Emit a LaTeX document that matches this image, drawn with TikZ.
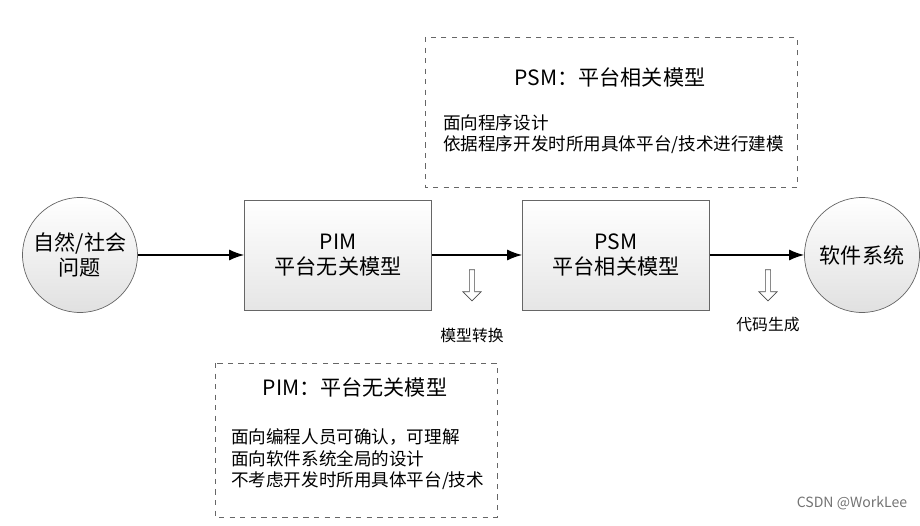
\documentclass[tikz,border=0pt]{standalone}
\usepackage{fontspec}
\setmainfont{Noto Sans CJK SC}
\usetikzlibrary{shapes.arrows,arrows.meta}

\tikzset{
  ends/.style={circle,draw=black!60,minimum size=2.3cm,inner sep=0pt,
    top color=white,bottom color=black!12,align=center,font=\large},
  model/.style={rectangle,draw=black!60,minimum width=3.74cm,minimum height=2.2cm,
    top color=white,bottom color=black!10,align=center,font=\large},
  note/.style={draw=black!60,dashed},
  flow/.style={-{Latex[length=3mm,width=2.2mm]},thick},
  trans/.style={single arrow,draw=black!70,fill=white,shape border rotate=270,
    minimum height=0.62cm,minimum width=0.36cm,single arrow head extend=0.06cm,inner sep=0.5pt},
}

\begin{document}
\begin{tikzpicture}[x=0.02cm,y=-0.02cm]
    \useasboundingbox (0,0) rectangle (920,526);
    % main flow
    \node[ends] (problem) at (80,255) {自然/社会\\问题};
    \node[model] (pim) at (338,255) {PIM\\平台无关模型};
    \node[model] (psm) at (616,255) {PSM\\平台相关模型};
    \node[ends] (software) at (862,255) {软件系统};
    \draw[flow] (problem) -- (pim);
    \draw[flow] (pim) -- (psm);
    \draw[flow] (psm) -- (software);
    % transformations
    \node[trans] (t1) at (472,284) {};
    \node[font=\small] (t1label) at (472,335) {模型转换};
    \node[trans] (t2) at (768,284) {};
    \node[font=\small] (t2label) at (768,325) {代码生成};
    % notes
    \draw[note] (425,37) rectangle (797,187);
    \node[font=\large] (psmtitle) at (610,77) {PSM：平台相关模型};
    \node[anchor=west] (psm1) at (437,123) {面向程序设计};
    \node[anchor=west] (psm2) at (437,145) {依据程序开发时所用具体平台/技术进行建模};
    \draw[note] (215,363) rectangle (497,517);
    \node[font=\large] (pimtitle) at (355,387) {PIM：平台无关模型};
    \node[anchor=west] (pim1) at (225,437) {面向编程人员可确认，可理解};
    \node[anchor=west] (pim2) at (225,459) {面向软件系统全局的设计};
    \node[anchor=west] (pim3) at (225,481) {不考虑开发时所用具体平台/技术};
    \node[text=black!55,font=\footnotesize] (mark) at (852,503) {CSDN @WorkLee};
\end{tikzpicture}
\end{document}
